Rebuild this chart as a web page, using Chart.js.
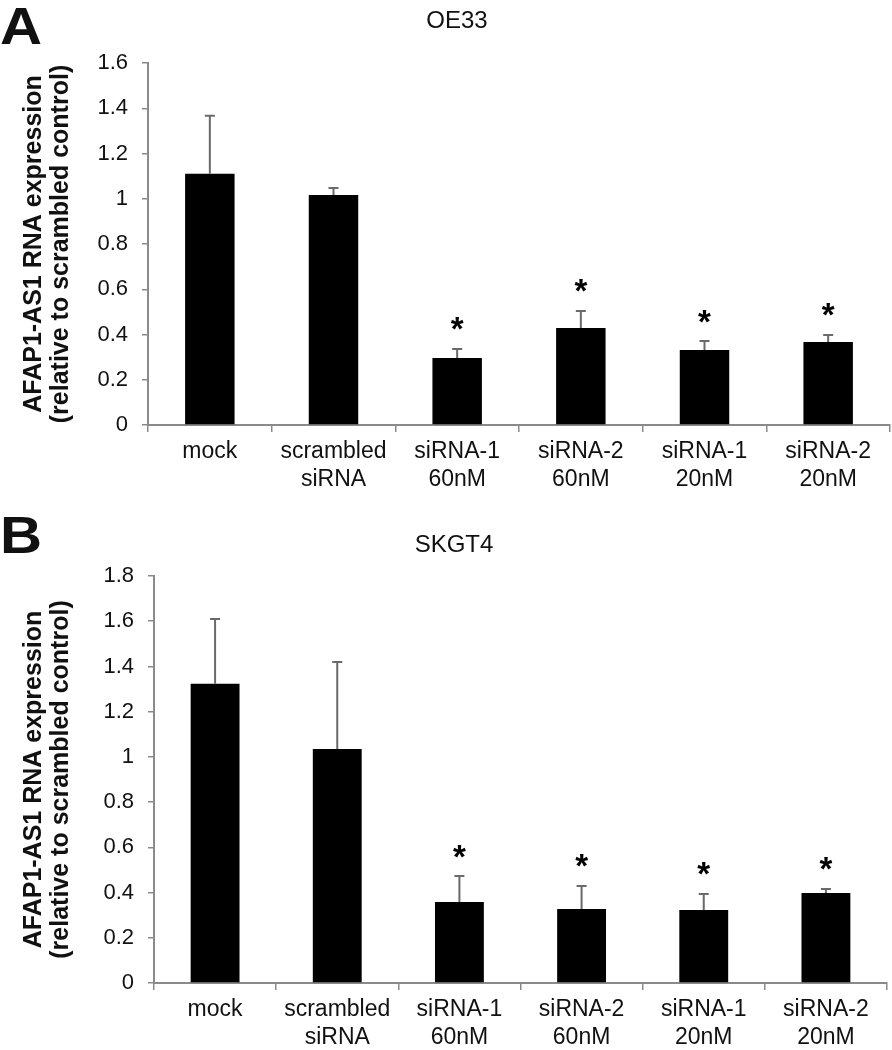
<!DOCTYPE html>
<html>
<head>
<meta charset="utf-8">
<script src="https://cdn.jsdelivr.net/npm/chart.js@4/dist/chart.umd.min.js"></script>
<style>
body{margin:0;background:#fff;}
#wrap{position:relative;width:892px;height:1050px;font-family:"Liberation Sans",Arial,sans-serif;color:#111;}
.panel{position:absolute;left:0;width:892px;height:525px;}
.letter{position:absolute;left:0;font-weight:bold;font-size:52px;line-height:1;transform-origin:left top;transform:scaleX(1.12);}
.title{position:absolute;font-size:24px;line-height:1;transform:translateX(-50%);white-space:nowrap;}
</style>
</head>
<body>
<div id="wrap">
<div class="panel" style="top:0"><canvas id="chartA" width="892" height="525"></canvas></div>
<div class="panel" style="top:525px"><canvas id="chartB" width="892" height="525"></canvas></div>
<div class="letter" style="top:0">A</div>
<div class="letter" style="top:509px">B</div>
<div class="title" style="left:457px;top:8px">OE33</div>
<div class="title" style="left:454px;top:532px">SKGT4</div>
</div>
<script>
const categories = [
["mock"],
["scrambled","siRNA"],
["siRNA-1","60nM"],
["siRNA-2","60nM"],
["siRNA-1","20nM"],
["siRNA-2","20nM"]
];

const valuesA = [1.11, 1.017, 0.296, 0.429, 0.331, 0.367];
const errorsA = [0.257, 0.03, 0.04, 0.075, 0.04, 0.031];
const significantA = [false, false, true, true, true, true];
const ticksA = [0, 0.2, 0.4, 0.6, 0.8, 1, 1.2, 1.4, 1.6];

const valuesB = [1.323, 1.035, 0.358, 0.327, 0.323, 0.398];
const errorsB = [0.287, 0.385, 0.115, 0.102, 0.071, 0.018];
const significantB = [false, false, true, true, true, true];
const ticksB = [0, 0.2, 0.4, 0.6, 0.8, 1, 1.2, 1.4, 1.6, 1.8];

const yTitle = ["AFAP1-AS1 RNA expression","(relative to scrambled control)"];

const fontFamily = '"Liberation Sans", Arial, sans-serif';
const axisGrey = '#8a8a8a';

const errorBarPlugin = {
id:'errorBars',
afterDatasetsDraw(chart, args, opts){
const ctx = chart.ctx;
const meta = chart.getDatasetMeta(0);
const yScale = chart.scales.y;
const values = chart.data.datasets[0].data;
ctx.save();
meta.data.forEach((bar, i) => {
const x = bar.x;
const yTop = yScale.getPixelForValue(values[i] + opts.errors[i]);
const yBase = yScale.getPixelForValue(values[i]);
ctx.strokeStyle = '#6a6a6a';
ctx.lineWidth = 2;
ctx.beginPath();
ctx.moveTo(x, yBase);
ctx.lineTo(x, yTop);
ctx.moveTo(x - 5, yTop);
ctx.lineTo(x + 5, yTop);
ctx.stroke();
if(opts.significant[i]){
ctx.fillStyle = '#000';
ctx.font = 'bold 33px ' + fontFamily;
ctx.textAlign = 'center';
ctx.textBaseline = 'alphabetic';
const m = ctx.measureText('*');
const h = m.actualBoundingBoxAscent - m.actualBoundingBoxDescent;
const center = yTop - 15;
ctx.fillText('*', x, center + m.actualBoundingBoxAscent - h / 2);
}
});
ctx.restore();
}
};

function makeChart(canvasId, values, errors, significant, yTicks, area){
const yMax = yTicks[yTicks.length - 1];
return new Chart(document.getElementById(canvasId), {
type:'bar',
data:{
labels:categories,
datasets:[{
data:values,
backgroundColor:'#000',
borderWidth:0,
barPercentage:0.4,
categoryPercentage:1
}]
},
options:{
responsive:false,
animation:false,
events:[],
layout:{
padding:{top:area.top, right:892 - area.right, left:0, bottom:0}
},
plugins:{
legend:{display:false},
tooltip:{enabled:false},
errorBars:{errors:errors, significant:significant}
},
scales:{
x:{
afterFit(scale){ scale.height = 525 - area.bottom; },
grid:{drawOnChartArea:false, drawTicks:true, tickLength:7, color:axisGrey, lineWidth:1.5},
border:{color:axisGrey, width:2},
ticks:{
color:'#111',
padding:6,
font:{family:fontFamily, size:23, lineHeight:1.22}
}
},
y:{
min:0,
max:yMax,
afterFit(scale){ scale.width = area.left; },
afterBuildTicks(scale){ scale.ticks = yTicks.map(v => ({value:v})); },
grid:{drawOnChartArea:false, drawTicks:true, tickLength:6, color:axisGrey, lineWidth:1.5},
border:{color:axisGrey, width:2},
ticks:{
color:'#111',
padding:14,
font:{family:fontFamily, size:22},
callback:(v) => String(Math.round(v * 10) / 10)
},
title:{
display:true,
text:yTitle,
color:'#111',
padding:{top:21, bottom:0},
font:{family:fontFamily, size:25, weight:'bold', lineHeight:1.06}
}
}
}
},
plugins:[errorBarPlugin]
});
}

makeChart('chartA', valuesA, errorsA, significantA, ticksA, {left:148, right:890, top:63, bottom:425});
makeChart('chartB', valuesB, errorsB, significantB, ticksB, {left:154, right:887, top:51, bottom:458});
</script>
</body>
</html>
